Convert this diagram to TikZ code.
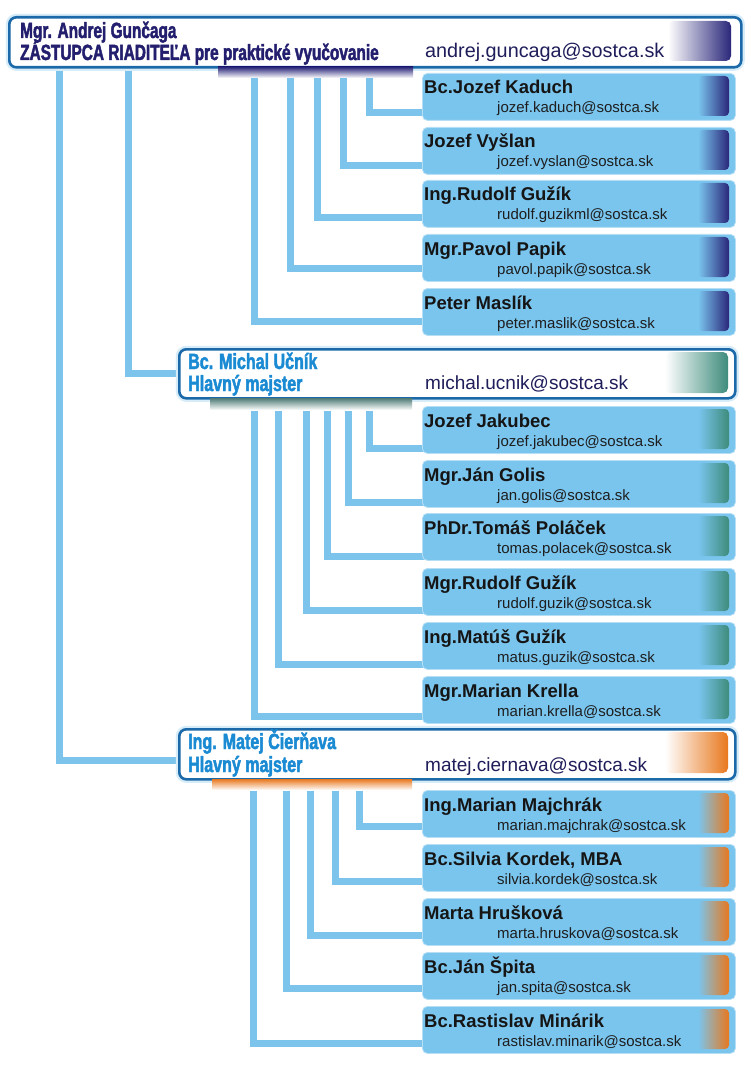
\documentclass[tikz,border=0pt]{standalone}
\usepackage{fontspec}
\setmainfont{Liberation Sans}
\newfontfamily\condA[FakeStretch=0.70,FakeBold=2]{Liberation Sans}
\newfontfamily\condB[FakeStretch=0.73,FakeBold=2]{Liberation Sans}
\usetikzlibrary{calc}
\definecolor{cardblue}{HTML}{7AC5EE}
\definecolor{linec}{HTML}{7CC4EC}
\definecolor{navy}{HTML}{2A277A}
\definecolor{htext}{HTML}{231F6E}
\definecolor{hmail}{HTML}{1F1D5A}
\definecolor{hborder}{HTML}{1B69A8}
\definecolor{hglow}{HTML}{D6ECF8}
\definecolor{sectext}{HTML}{1A8AD3}
\definecolor{teal}{HTML}{3E8C7C}
\definecolor{tealbar}{HTML}{4D7A74}
\definecolor{orange}{HTML}{E8781E}
\definecolor{namec}{HTML}{151515}
\definecolor{emc}{HTML}{1E1E1E}
\pgfdeclarelayer{back}
\pgfdeclarelayer{bg}
\pgfsetlayers{back,bg,main}
\tikzset{
  card/.style={fill=cardblue, draw=cardblue!55!white, line width=0.8pt, rounded corners=5pt,
    minimum width=313pt, minimum height=47pt, inner sep=0pt, anchor=north west},
  hbox/.style={fill=white, draw=hborder, line width=2.6pt, rounded corners=7pt, inner sep=0pt,
    anchor=north west, preaction={draw=hglow, line width=7pt}},
  conn/.style={draw=linec, line width=7pt},
  nm/.style={font=\fontsize{18.5}{20}\selectfont\bfseries, text=namec, anchor=base west, inner sep=0pt},
  em/.style={font=\fontsize{15}{17}\selectfont, text=emc, anchor=base west, inner sep=0pt},
  htitle/.style={font=\condA\bfseries\fontsize{22}{22}\selectfont, text=htext, anchor=base west, inner sep=0pt},
  stitle/.style={font=\condB\bfseries\fontsize{22}{22}\selectfont, text=sectext, anchor=base west, inner sep=0pt},
  hmailst/.style={font=\fontsize{19}{21}\selectfont, text=hmail, anchor=base west, inner sep=0pt}
}
\newcommand\pcard[8]{%
  \node[card] (#1) at (422,#2) {};
  \shade[left color=cardblue, right color=#5, rounded corners=4pt] (698,#2+3) rectangle (729,#2+43);
  \node[nm] (#1n) at (424,#2+21) {#3};
  \node[em] (#1e) at (497,#2+40) {#4};
  \coordinate (#1q) at (#7,0);
  \coordinate (#1p) at (426,#8);
  \begin{pgfonlayer}{bg}\draw[conn] (#6.south -| #1q) |- (#1p);\end{pgfonlayer}
}
\begin{document}
\begin{tikzpicture}[x=1pt,y=-1pt]
\begin{pgfonlayer}{back}
\fill[white] (0,0) rectangle (750,1067);
\end{pgfonlayer}
\useasboundingbox (0,0) rectangle (750,1067);

% ---------- header 1 ----------
\node[hbox, minimum width=732pt, minimum height=50pt] (h1) at (8,16) {};
\shade[left color=white, right color=navy, rounded corners=5pt] (668,21) rectangle (731,61);
\node[htitle] (h1a) at (20,38) {Mgr. Andrej Gunčaga};
\node[htitle] (h1b) at (20,60) {ZÁSTUPCA RIADITEĽA pre praktické vyučovanie};
\node[hmailst, font=\fontsize{19.8}{21}\selectfont] (h1e) at (425,58) {andrej.guncaga@sostca.sk};

% ---------- header 2 ----------
\node[hbox, minimum width=556pt, minimum height=49pt] (h2) at (178,348) {};
\shade[left color=white, right color=teal, rounded corners=5pt] (665,352) rectangle (728,393);
\node[stitle] (h2a) at (188,369) {Bc. Michal Učník};
\node[stitle] (h2b) at (188,391) {Hlavný majster};
\node[hmailst] (h2e) at (425,389) {michal.ucnik@sostca.sk};

% ---------- header 3 ----------
\node[hbox, minimum width=556pt, minimum height=50pt] (h3) at (178,728) {};
\shade[left color=white, right color=orange, rounded corners=5pt] (665,732) rectangle (728,773);
\node[stitle] (h3a) at (188,749) {Ing. Matej Čierňava};
\node[stitle] (h3b) at (188,772) {Hlavný majster};
\node[hmailst] (h3e) at (425,771) {matej.ciernava@sostca.sk};

% ---------- section connectors ----------
\coordinate (s2q) at (128,0);
\coordinate (s2p) at (182,373);
\coordinate (s3q) at (59,0);
\coordinate (s3p) at (182,760);
\begin{pgfonlayer}{bg}
\draw[conn] (h1.south -| s2q) |- (s2p);
\draw[conn] (h1.south -| s3q) |- (s3p);
\end{pgfonlayer}

% ---------- group 1 ----------
\pcard{c11}{73}{Bc.Jozef Kaduch}{jozef.kaduch@sostca.sk}{navy}{h1}{369}{113}
\pcard{c12}{127}{Jozef Vyšlan}{jozef.vyslan@sostca.sk}{navy}{h1}{343}{166}
\pcard{c13}{180}{Ing.Rudolf Gužík}{rudolf.guzikml@sostca.sk}{navy}{h1}{317}{218}
\pcard{c14}{234}{Mgr.Pavol Papik}{pavol.papik@sostca.sk}{navy}{h1}{290}{268}
\pcard{c15}{288}{Peter Maslík}{peter.maslik@sostca.sk}{navy}{h1}{254}{321}

% ---------- group 2 ----------
\pcard{c21}{406}{Jozef Jakubec}{jozef.jakubec@sostca.sk}{teal}{h2}{369}{448}
\pcard{c22}{460}{Mgr.Ján Golis}{jan.golis@sostca.sk}{teal}{h2}{348}{502}
\pcard{c23}{513}{PhDr.Tomáš Poláček}{tomas.polacek@sostca.sk}{teal}{h2}{327}{556}
\pcard{c24}{568}{Mgr.Rudolf Gužík}{rudolf.guzik@sostca.sk}{teal}{h2}{306}{610}
\pcard{c25}{622}{Ing.Matúš Gužík}{matus.guzik@sostca.sk}{teal}{h2}{278}{664}
\pcard{c26}{676}{Mgr.Marian Krella}{marian.krella@sostca.sk}{teal}{h2}{254}{716}

% ---------- group 3 ----------
\pcard{c31}{790}{Ing.Marian Majchrák}{marian.majchrak@sostca.sk}{orange}{h3}{359}{826}
\pcard{c32}{844}{Bc.Silvia Kordek, MBA}{silvia.kordek@sostca.sk}{orange}{h3}{335}{881}
\pcard{c33}{898}{Marta Hrušková}{marta.hruskova@sostca.sk}{orange}{h3}{310}{935}
\pcard{c34}{952}{Bc.Ján Špita}{jan.spita@sostca.sk}{orange}{h3}{286}{988}
\pcard{c35}{1006}{Bc.Rastislav Minárik}{rastislav.minarik@sostca.sk}{orange}{h3}{253}{1043}

% ---------- bars under headers ----------
\shade[top color=navy, bottom color=white] (218,67) rectangle (413,78);
\shade[top color=tealbar, bottom color=white] (210,398) rectangle (412,410);
\shade[top color=orange, bottom color=white] (212,779) rectangle (412,790);
\end{tikzpicture}
\end{document}
